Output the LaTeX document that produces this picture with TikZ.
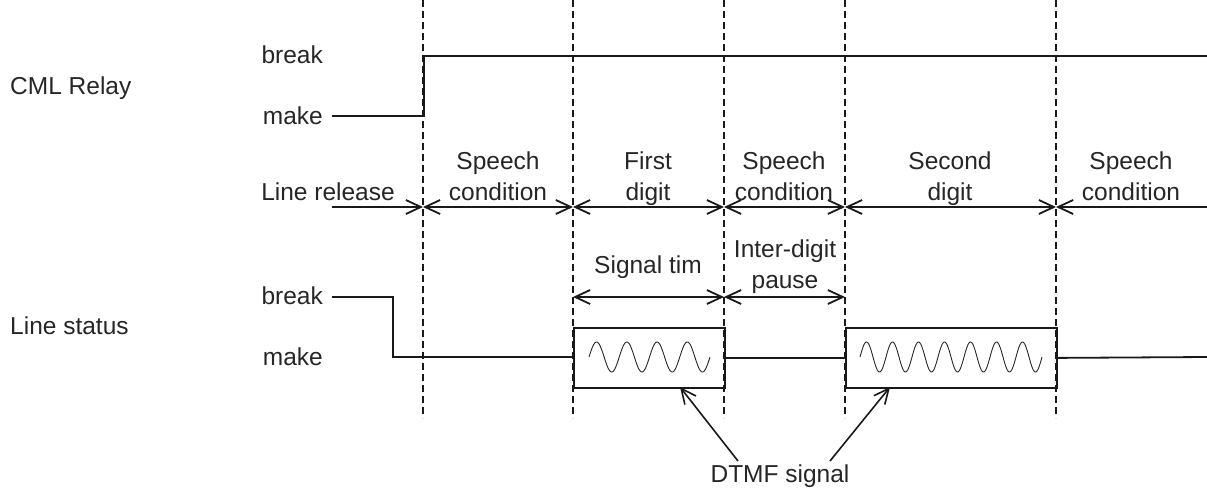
\documentclass[tikz,border=0pt]{standalone}
\usepackage{fontspec}
\setmainfont{Liberation Sans}
\usetikzlibrary{arrows.meta}
\begin{document}
\begin{tikzpicture}[x=1pt,y=-1pt,
  every node/.style={font=\fontsize{24.5}{31}\selectfont, inner sep=0pt, text=black!85},
  sig/.style={line width=1.8pt, draw=black!90},
  guide/.style={line width=1.4pt, dash pattern=on 7pt off 4pt, draw=black!90},
  wave/.style={line width=0.9pt, draw=black!85},
  barb/.tip={Straight Barb[length=15pt,width=14pt]},
  dimline/.style={sig, {barb}-{barb}}
]
\useasboundingbox (0,0) rectangle (1207,488);

% vertical dashed guides
\foreach \x/\n in {423/a,573/b,724/c,845/d,1056/e}{
  \coordinate (t\n) at (\x,0);
  \coordinate (b\n) at (\x,418);
  \draw[guide] (t\n) -- (b\n);
}

% ---- CML Relay ----
\node[anchor=base west] (cml) at (10,94) {CML Relay};
\node[anchor=east] (rbreak) at (323,55) {break};
\node[anchor=east] (rmake) at (323,116) {make};
\coordinate (r0) at (332,116);
\coordinate (r1) at (424,116);
\coordinate (r2) at (424,56);
\coordinate (r3) at (1207,56);
\draw[sig] (r0) -- (r1) -- (r2) -- (r3);

% ---- timeline ----
\coordinate (L0) at (332,207);
\foreach \x/\n in {423/a,573/b,724/c,845/d,1056/e}{
  \coordinate (L\n) at (\x,207);
}
\coordinate (Lz) at (1207,207);
\draw[sig,-{barb}] (L0) -- (La);
\draw[dimline] (La) -- (Lb);
\draw[dimline] (Lb) -- (Lc);
\draw[dimline] (Lc) -- (Ld);
\draw[dimline] (Ld) -- (Le);
\draw[sig,{barb}-] (Le) -- (Lz);

\node[anchor=base] (lrel) at (328,200) {Line release};
\node[anchor=base, align=center] (sp1) at (498,200) {Speech\\condition};
\node[anchor=base, align=center] (fd) at (648,200) {First\\digit};
\node[anchor=base, align=center] (sp2) at (784,200) {Speech\\condition};
\node[anchor=base, align=center] (sd) at (950,200) {Second\\digit};
\node[anchor=base, align=center] (sp3) at (1131,200) {Speech\\condition};

% ---- signal timing ----
\coordinate (Sb) at (573,297);
\coordinate (Sc) at (724,297);
\coordinate (Sd) at (845,297);
\draw[dimline] (Sb) -- (Sc);
\draw[dimline] (Sc) -- (Sd);
\node[anchor=base] (stim) at (648,273) {Signal tim};
\node[anchor=base, align=center] (idp) at (785,288) {Inter-digit\\pause};

% ---- Line status ----
\node[anchor=base west] (ls) at (10,334) {Line status};
\node[anchor=east] (lbreak) at (323,296) {break};
\node[anchor=east] (lmake) at (323,357) {make};
\coordinate (s0) at (332,297);
\coordinate (s1) at (393,297);
\coordinate (s2) at (393,357);
\coordinate (s3) at (573,357);
\draw[sig] (s0) -- (s1) -- (s2) -- (s3);

\node[sig, draw, rectangle, minimum width=151pt, minimum height=60pt, anchor=north west] (box1) at (573,327) {};
\node[sig, draw, rectangle, minimum width=211pt, minimum height=60pt, anchor=north west] (box2) at (845,327) {};
\draw[sig] (box1.east) -- (box2.west);
\coordinate (s4) at (1207,357);
\draw[sig] (box2.east) -- (s4);

\draw[wave] plot[domain=0:121, samples=240] ({589+\x}, {357-15*sin(\x*11.9008)});
\draw[wave] plot[domain=0:182, samples=300] ({860+\x}, {357-15*sin(\x*13.8462)});

% ---- DTMF signal ----
\node[anchor=base] (dtmf) at (780,482) {DTMF signal};
\coordinate (d1) at (738,461);
\coordinate (h1) at (680,387);
\coordinate (d2) at (830,461);
\coordinate (h2) at (890,387);
\draw[sig, line width=1.6pt, -{barb}] (d1) -- (h1);
\draw[sig, line width=1.6pt, -{barb}] (d2) -- (h2);
\end{tikzpicture}
\end{document}
